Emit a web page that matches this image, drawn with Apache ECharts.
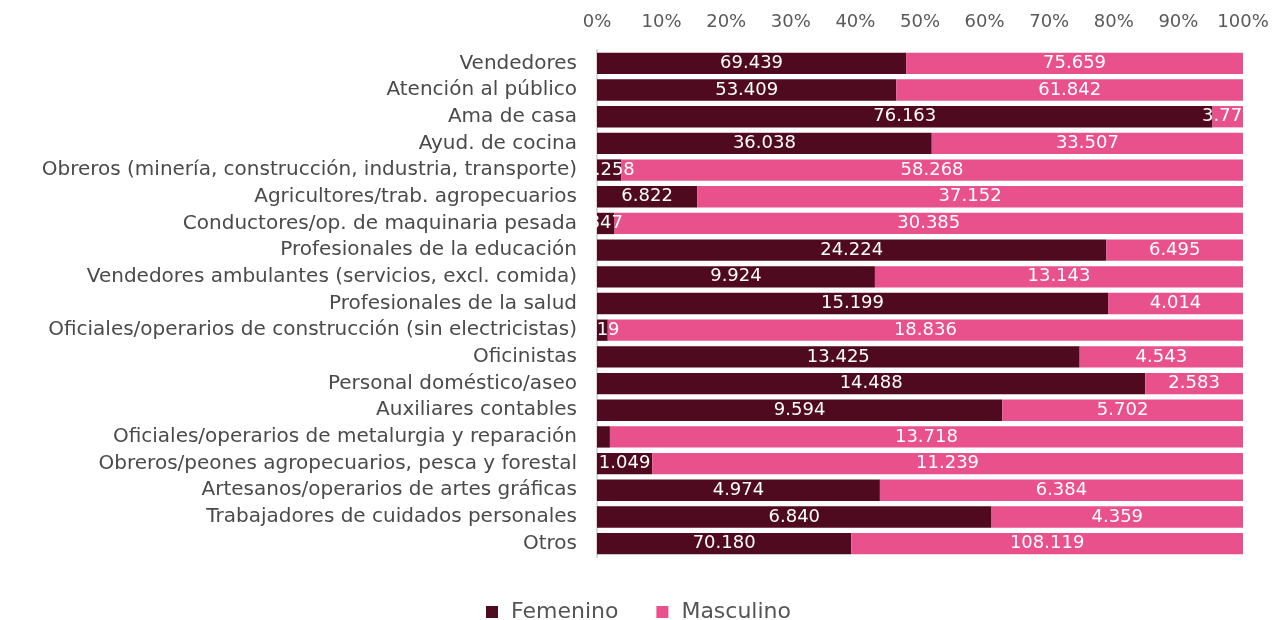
<!DOCTYPE html>
<html>
<head>
<meta charset="utf-8">
<script src="https://cdn.jsdelivr.net/npm/echarts@6/dist/echarts.min.js"></script>
<style>
  html, body { margin: 0; padding: 0; background: #fff; }
  #chart { width: 1277px; height: 620px; }
</style>
</head>
<body>
<div id="chart"></div>
<script>
// ocupaciones
var categorias = [
  'Vendedores',
  'Atención al público',
  'Ama de casa',
  'Ayud. de cocina',
  'Obreros (minería, construcción, industria, transporte)',
  'Agricultores/trab. agropecuarios',
  'Conductores/op. de maquinaria pesada',
  'Profesionales de la educación',
  'Vendedores ambulantes (servicios, excl. comida)',
  'Profesionales de la salud',
  'Oficiales/operarios de construcción (sin electricistas)',
  'Oficinistas',
  'Personal doméstico/aseo',
  'Auxiliares contables',
  'Oficiales/operarios de metalurgia y reparación',
  'Obreros/peones agropecuarios, pesca y forestal',
  'Artesanos/operarios de artes gráficas',
  'Trabajadores de cuidados personales',
  'Otros'
];

var femenino = [69439, 53409, 76163, 36038, 2258, 6822, 847, 24224, 9924, 15199,
                319, 13425, 14488, 9594, 280, 1049, 4974, 6840, 70180];
var masculino = [75659, 61842, 3770, 33507, 58268, 37152, 30385, 6495, 13143, 4014,
                 18836, 4543, 2583, 5702, 13718, 11239, 6384, 4359, 108119];

var ticksPct = [0, 10, 20, 30, 40, 50, 60, 70, 80, 90, 100];

var fontFam = '"DejaVu Sans", sans-serif';

function miles(n) {
  return String(n).replace(/\B(?=(\d{3})+(?!\d))/g, '.');
}

function pct(a, b) {
  return a.map(function (v, i) { return v / (v + b[i]) * 100; });
}

var chart = echarts.init(document.getElementById('chart'));

var option = {
  animation: false,
  grid: { left: 597, right: 34, top: 50, bottom: 63 },
  legend: {
    top: 596,
    left: 'center',
    icon: 'rect',
    itemWidth: 12,
    itemHeight: 12,
    itemGap: 38,
    textStyle: { fontFamily: fontFam, fontSize: 22, color: '#555', padding: [0, 0, 0, 8] },
    data: ['Femenino', 'Masculino']
  },
  xAxis: {
    type: 'value',
    position: 'top',
    min: ticksPct[0],
    max: ticksPct[ticksPct.length - 1],
    interval: 10,
    axisLine: { show: false },
    axisTick: { show: false },
    splitLine: { show: false },
    axisLabel: {
      formatter: '{value}%',
      fontFamily: fontFam,
      fontSize: 18,
      color: '#595959',
      margin: 19
    }
  },
  yAxis: {
    type: 'category',
    inverse: true,
    data: categorias,
    axisLine: { show: true, lineStyle: { color: '#d9d9d9', width: 2 } },
    axisTick: { show: false },
    axisLabel: {
      fontFamily: fontFam,
      fontSize: 20,
      color: '#4a4a4a',
      margin: 20
    }
  },
  series: [{
    name: 'Femenino',
    type: 'bar',
    stack: 'total',
    barCategoryGap: '20%',
    itemStyle: { color: '#4f0a1f' },
    label: {
      show: true,
      position: 'inside',
      color: '#fff',
      fontFamily: fontFam,
      fontSize: 18,
      formatter: function (p) { return p.dataIndex === 14 ? '' : miles(femenino[p.dataIndex]); }
    },
    data: pct(femenino, masculino)
  }, {
    name: 'Masculino',
    type: 'bar',
    stack: 'total',
    barCategoryGap: '20%',
    itemStyle: { color: '#e9518d' },
    label: {
      show: true,
      position: 'inside',
      color: '#fff',
      fontFamily: fontFam,
      fontSize: 18,
      formatter: function (p) { return miles(masculino[p.dataIndex]); }
    },
    data: pct(masculino, femenino)
  }]
};

chart.setOption(option);
</script>
</body>
</html>
